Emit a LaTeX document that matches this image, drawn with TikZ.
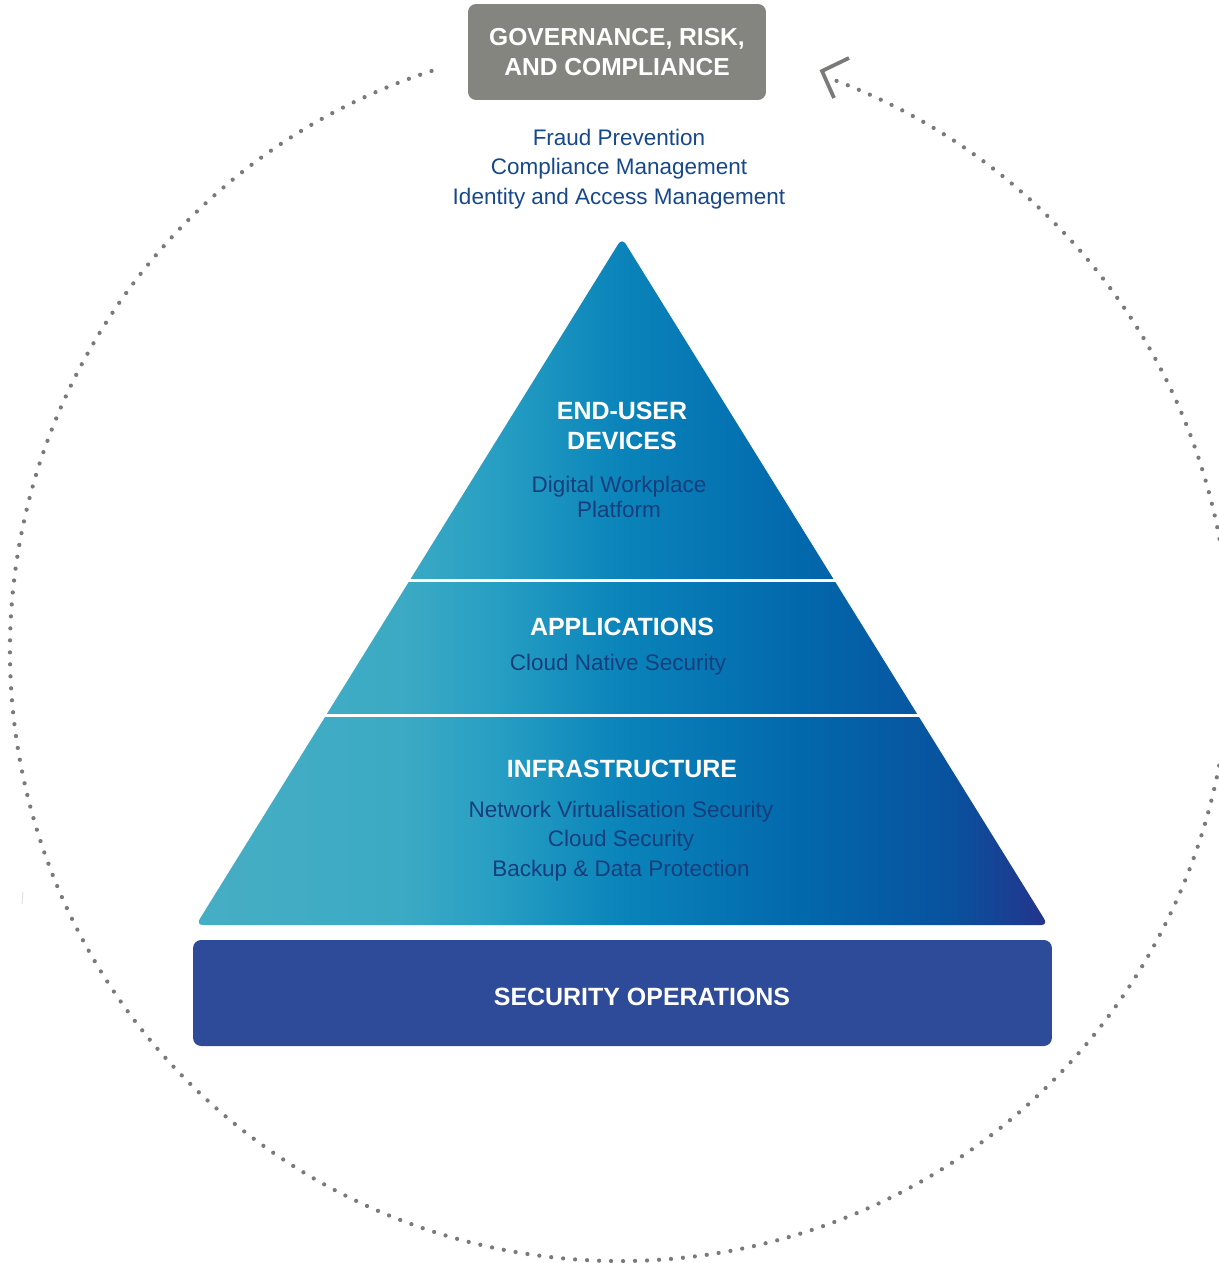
\documentclass[tikz,border=0pt]{standalone}
\usepackage{fontspec}
\setmainfont{Liberation Sans}
\definecolor{grcgray}{RGB}{133,133,127}
\definecolor{secblue}{RGB}{46,75,154}
\definecolor{topblue}{RGB}{22,72,140}
\definecolor{subblue}{RGB}{22,62,124}
\definecolor{dotgray}{RGB}{122,122,120}
\definecolor{p0}{RGB}{70,174,196}
\definecolor{p1}{RGB}{60,170,196}
\definecolor{p2}{RGB}{38,158,195}
\definecolor{p3}{RGB}{10,132,186}
\definecolor{p4}{RGB}{2,104,172}
\definecolor{p5}{RGB}{8,82,158}
\definecolor{p6}{RGB}{36,52,140}
\pgfdeclarehorizontalshading{pyrshade}{100bp}{color(0bp)=(p0); color(25bp)=(p0); color(37bp)=(p1); color(42.8bp)=(p2); color(49.9bp)=(p3); color(60.4bp)=(p4); color(69.2bp)=(p5); color(75bp)=(p6); color(100bp)=(p6)}
\begin{document}
\begin{tikzpicture}[x=0.02cm,y=-0.02cm,
  boxtitle/.style={text=white, font=\bfseries\fontsize{14}{17.6}\selectfont, align=center, inner sep=0pt},
  layertitle/.style={text=white, font=\bfseries\fontsize{14.2}{17}\selectfont, align=center, inner sep=0pt},
  layersub/.style={text=subblue, font=\fontsize{12.8}{16.7}\selectfont, align=center, inner sep=0pt},
  dotline/.style={draw=dotgray, line width=0.085cm, line cap=round, dash pattern=on 0pt off 0.24cm},
  separator/.style={draw=white, line width=0.06cm},
  chevron/.style={draw=dotgray, line width=0.075cm}]
\useasboundingbox (0,0) rectangle (1219,1263);
% cycle
\coordinate (ctr) at (620,651);
\draw[dotline] (ctr) ++(108:12.2cm) arc[start angle=108, end angle=430, radius=12.2cm];
\coordinate (tip) at (822,71);
\coordinate (armA) at (849,58);
\coordinate (armB) at (834,98);
\draw[chevron] (armA) -- (tip) -- (armB);
\draw[gray!25, line width=0.02cm] (23,892) -- (22,904);
% pyramid
\coordinate (apex) at (622,238);
\coordinate (bl) at (196,925);
\coordinate (br) at (1048,925);
\shade[shading=pyrshade, rounded corners=0.14cm] (apex) -- (br) -- (bl) -- cycle;
\coordinate (s1l) at (380,580);
\coordinate (s1r) at (870,580);
\coordinate (s2l) at (300,715);
\coordinate (s2r) at (950,715);
\draw[separator] (s1l) -- (s1r);
\draw[separator] (s2l) -- (s2r);
% governance box
\node[fill=grcgray, rounded corners=0.16cm, minimum width=5.96cm, minimum height=1.92cm, inner sep=0pt] (grc) at (617,52) {};
\node[boxtitle] (grctext) at (617,52) {GOVERNANCE, RISK,\\AND COMPLIANCE};
\node[text=topblue, font=\fontsize{12.8}{16.7}\selectfont, align=center, inner sep=0pt] (grcitems) at (619,169) {Fraud Prevention\\Compliance Management\\Identity and Access Management};
% layers
\node[layertitle] (eut) at (622,426) {END-USER\\DEVICES};
\node[layersub, font=\fontsize{12.8}{14.2}\selectfont] (eus) at (619,497) {Digital Workplace\\Platform};
\node[layertitle] (appt) at (622,627) {APPLICATIONS};
\node[layersub] (apps) at (618,665) {Cloud Native Security};
\node[layertitle] (inft) at (622,769) {INFRASTRUCTURE};
\node[layersub] (infs) at (621,841) {Network Virtualisation Security\\Cloud Security\\Backup \& Data Protection};
% security operations
\node[fill=secblue, rounded corners=0.16cm, minimum width=17.18cm, minimum height=2.12cm, inner sep=0pt] (secops) at (622.5,993) {};
\node[layertitle] (secopstext) at (642,997) {SECURITY OPERATIONS};
\end{tikzpicture}
\end{document}
